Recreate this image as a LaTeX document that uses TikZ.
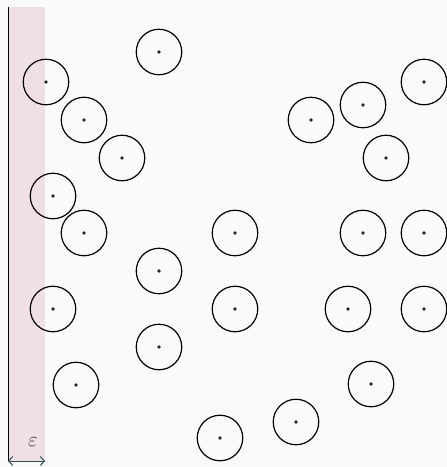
\documentclass[tikz,border=0pt]{standalone}
\usetikzlibrary{arrows.meta}
\definecolor{bgc}{HTML}{FAFAFA}
\definecolor{bandc}{HTML}{F0E0E6}
\definecolor{arrc}{HTML}{2F4F4F}
\definecolor{dotc}{HTML}{1C2B2B}
\definecolor{epsc}{HTML}{3A3A3A}
\tikzset{
  disk/.style={circle, draw=black, line width=1.2pt, minimum size=45.5pt, inner sep=0pt},
  ctr/.style={circle, fill=dotc, minimum size=3.6pt, inner sep=0pt},
}
\begin{document}
\begin{tikzpicture}[x=1pt,y=-1pt]
\fill[bgc] (0,0) rectangle (447,467);
\useasboundingbox (0,0) rectangle (447,467);
\fill[bandc] (8,7) rectangle (45,461);
\draw[line width=0.9pt, black] (8,7) -- (8,461);
\foreach \n/\x/\y in {1/159/52, 2/46/82, 3/84/120, 4/122/158, 5/53/196, 6/84/233, 7/159/271, 8/53/309, 9/159/347, 10/76/385, 11/220/438, 12/235/233, 13/235/309, 14/311/120, 15/363/105, 16/424/82, 17/386/158, 18/363/233, 19/424/233, 20/348/309, 21/424/309, 22/371/384, 23/296/422}{
  \node[disk] (c\n) at (\x,\y) {};
  \node[ctr] (d\n) at (c\n.center) {};
}
\coordinate (aL) at (8,461);
\coordinate (aR) at (45,461);
\draw[arrc, line width=1pt, {Straight Barb[length=4pt,width=9pt]}-{Straight Barb[length=4pt,width=9pt]}] (aL) -- (aR);
\node[text=epsc, font=\fontsize{22}{22}\selectfont] (eps) at (33,442) {$\varepsilon$};
\end{tikzpicture}
\end{document}
